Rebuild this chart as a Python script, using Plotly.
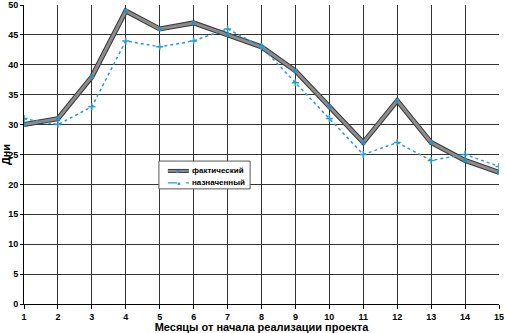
import plotly.graph_objects as go

months = list(range(1, 16))
actual = [30, 31, 38, 49, 46, 47, 45, 43, 39, 33, 27, 34, 27, 24, 22]
planned = [31, 30, 33, 44, 43, 44, 46, 43, 37, 31, 25, 27, 24, 25, 23]
name_actual = "фактический"
name_planned = "назначенный"

FONT = "Liberation Sans, Arial, sans-serif"
C_BLUE = "#2a9bd0"

fig = go.Figure()
fig.add_trace(go.Scatter(x=months, y=actual, mode="lines", line=dict(color="#3a3a3a", width=5),
                         showlegend=False, hoverinfo="skip"))
fig.add_trace(go.Scatter(x=months, y=actual, mode="lines+markers", name=name_actual, showlegend=False,
                         line=dict(color="#8c8c8c", width=3),
                         marker=dict(symbol="square", size=4, color="#2e8fc0")))
fig.add_trace(go.Scatter(x=months, y=planned, mode="lines+markers", name=name_planned, showlegend=False,
                         line=dict(color=C_BLUE, width=1.5, dash="dot"),
                         marker=dict(symbol="cross-thin", size=5, color=C_BLUE,
                                     line=dict(color=C_BLUE, width=1.5))))

# manual compact legend (paper coordinates)
lx0, lx1, ly0, ly1 = 0.284, 0.476, 0.385, 0.478
sx0, sx1, tx = 0.303, 0.347, 0.350
r1, r2 = 0.445, 0.405
shapes = [
    dict(type="rect", xref="paper", yref="paper", x0=lx0, x1=lx1, y0=ly0, y1=ly1,
         line=dict(color="#555", width=1), fillcolor="white", layer="above"),
    dict(type="line", xref="paper", yref="paper", x0=sx0, x1=sx1, y0=r1, y1=r1,
         line=dict(color="#3a3a3a", width=4), layer="above"),
    dict(type="line", xref="paper", yref="paper", x0=sx0, x1=sx1, y0=r1, y1=r1,
         line=dict(color="#8c8c8c", width=2), layer="above"),
    dict(type="line", xref="paper", yref="paper", x0=sx0, x1=sx1, y0=r2, y1=r2,
         line=dict(color=C_BLUE, width=1.2, dash="dash"), layer="above"),
]
annotations = [
    dict(xref="paper", yref="paper", x=tx, y=r1, text=name_actual, showarrow=False,
         xanchor="left", yanchor="middle", font=dict(family=FONT, size=8, color="#000", weight="bold")),
    dict(xref="paper", yref="paper", x=tx, y=r2, text=name_planned, showarrow=False,
         xanchor="left", yanchor="middle", font=dict(family=FONT, size=8, color="#000", weight="bold")),
    dict(xref="paper", yref="paper", x=(sx0 + sx1) / 2, y=r1, text="■", showarrow=False,
         xanchor="center", yanchor="middle", font=dict(size=6, color="#2e8fc0")),
    dict(xref="paper", yref="paper", x=(sx0 + sx1) / 2, y=r2, text="■", showarrow=False,
         xanchor="center", yanchor="middle", font=dict(size=5, color=C_BLUE)),
]

fig.update_layout(
    width=506, height=333,
    margin=dict(l=24, r=7, t=5, b=29),
    paper_bgcolor="white", plot_bgcolor="white",
    font=dict(family=FONT, size=9, color="#000"),
    showlegend=False,
    shapes=shapes, annotations=annotations,
)
fig.update_xaxes(range=[1, 15], tickvals=months, ticks="outside", ticklen=4, tickcolor="#000",
                 showgrid=True, gridcolor="#333333", gridwidth=1, automargin=False,
                 showline=True, linecolor="#000", linewidth=1, zeroline=False,
                 tickfont=dict(size=9, family=FONT, weight="bold"),
                 title=dict(text="<b>Месяцы от начала реализации проекта</b>", font=dict(size=11), standoff=3))
fig.update_yaxes(range=[0, 50], dtick=5, ticks="outside", ticklen=3, tickcolor="#000",
                 showgrid=True, gridcolor="#333333", gridwidth=1, automargin=False,
                 showline=True, linecolor="#000", linewidth=1, zeroline=False,
                 tickfont=dict(size=9, family=FONT, weight="bold"),
                 title=dict(text="<b>Дни</b>", font=dict(size=11), standoff=2))

fig.write_html("out.html")
